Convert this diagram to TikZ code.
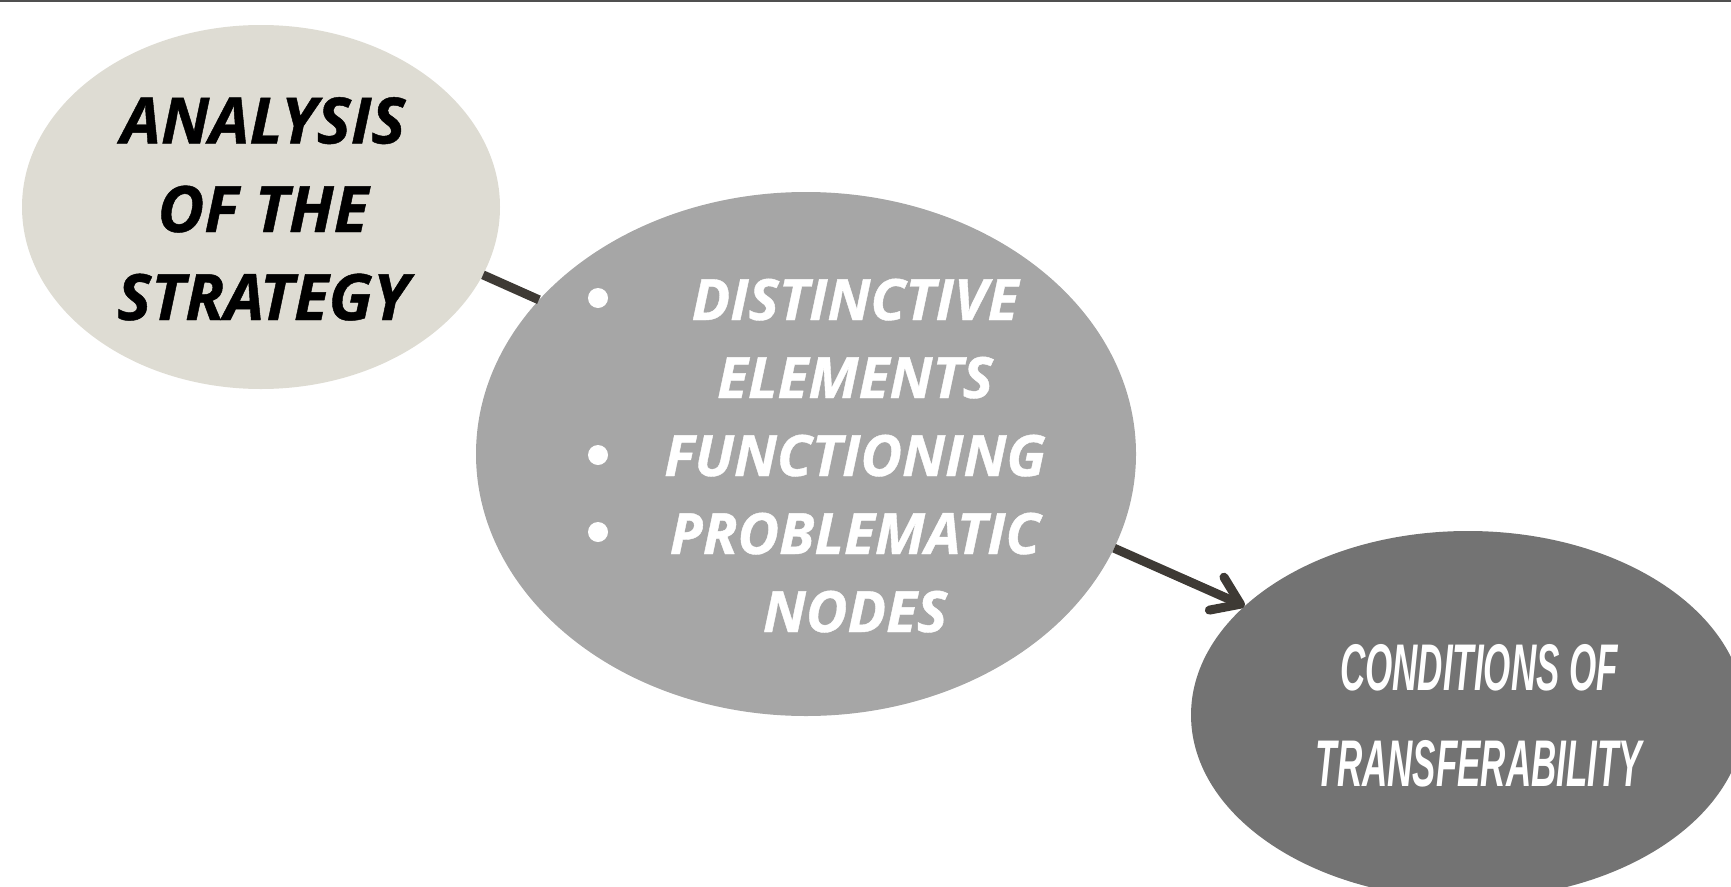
\documentclass[tikz,border=0pt]{standalone}
\usepackage{fontspec}
\setmainfont{Open Sans}
\newfontfamily\heavyfont[BoldItalicFeatures={FakeBold=0.7}]{Open Sans}
\newfontfamily\condfont[FakeStretch=0.53]{Liberation Sans}
\usetikzlibrary{shapes.geometric,arrows.meta}
\definecolor{sand}{HTML}{DEDCD3}
\definecolor{midgrey}{HTML}{A6A6A6}
\definecolor{darkgrey}{HTML}{737373}
\definecolor{ink}{HTML}{3E3A35}
\definecolor{rule}{HTML}{505050}
\begin{document}
\begin{tikzpicture}[x=1pt,y=-1pt,
  blob/.style={ellipse, inner sep=0pt, draw=none},
  heading/.style={anchor=base, inner sep=0pt, text=black,
    font=\fontsize{64}{64}\selectfont\heavyfont\bfseries\itshape},
  item/.style={anchor=base, inner sep=0pt, text=white,
    font=\fontsize{57}{57}\selectfont\heavyfont\bfseries\itshape},
  narrow/.style={anchor=base, inner sep=0pt, text=white,
    font=\fontsize{66}{66}\selectfont\condfont\bfseries\itshape},
  dot/.style={circle, fill=white, inner sep=0pt, minimum size=20pt},
  link/.style={draw=ink, line width=9pt},
  lead/.style={link, -{Straight Barb[length=26pt, width=36pt, round]}}]
\useasboundingbox (0,0) rectangle (1731,886);
\clip (0,0) rectangle (1731,886);

% thin rule along the top edge
\draw[rule, line width=2pt] (0,1) -- (1731,1);

% the three stages
\node[blob, fill=sand, minimum width=478pt, minimum height=364pt] (analysis) at (261,207) {};
\node[blob, fill=midgrey, minimum width=660pt, minimum height=524pt] (aspects) at (806,454) {};
\node[blob, fill=darkgrey, minimum width=554pt, minimum height=368pt] (transfer) at (1468,715) {};

% connectors
\draw[link] (analysis.-17) -- (aspects.150);
\draw[lead] (aspects.-17.5) -- (transfer.154.5);

% first stage
\node[heading] (h1) at (263,143.5) {ANALYSIS};
\node[heading] (h2) at (263,232) {OF THE};
\node[heading] (h3) at (263,320) {STRATEGY};

% second stage: bulleted list
\node[dot] (b1) at (598,298) {};
\node[dot] (b2) at (598,455) {};
\node[dot] (b3) at (598,532) {};
\node[item] (i1) at (855,320) {DISTINCTIVE};
\node[item] (i2) at (855,398) {ELEMENTS};
\node[item] (i3) at (855,476) {FUNCTIONING};
\node[item] (i4) at (855,554) {PROBLEMATIC};
\node[item] (i5) at (855,632) {NODES};

% third stage
\node[narrow] (c1) at (1479,690) {CONDITIONS OF};
\node[narrow] (c2) at (1479,786) {TRANSFERABILITY};
\end{tikzpicture}
\end{document}
